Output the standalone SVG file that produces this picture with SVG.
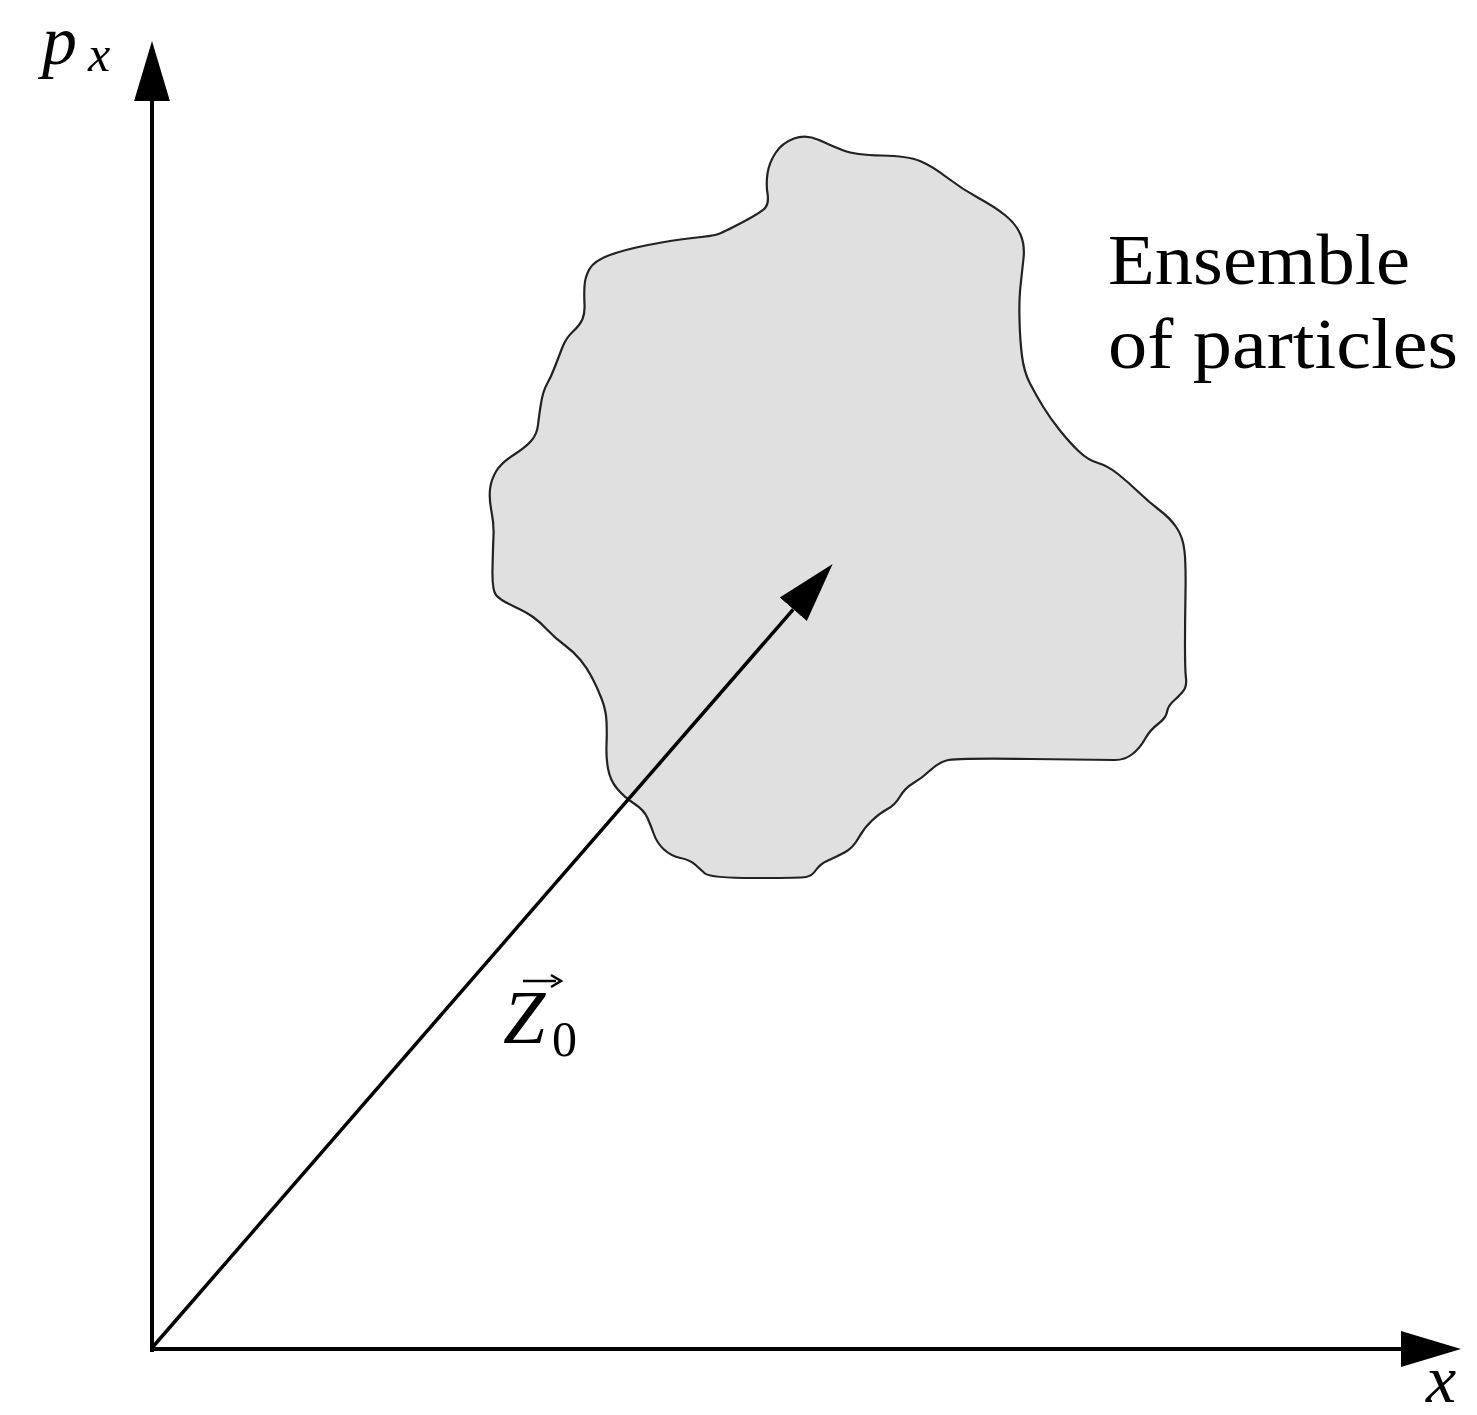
<svg xmlns="http://www.w3.org/2000/svg" width="1477" height="1415" viewBox="0 0 1477 1415">
<style>
.axis{stroke:#000;stroke-width:4;fill:none}
.vec{stroke:#000;stroke-width:3.5;fill:none}
.blob{fill:#e0e0e0;stroke:#222;stroke-width:2.2}
.math{font-family:"Liberation Serif","DejaVu Serif",serif;font-style:italic;fill:#000}
.rm{font-family:"Liberation Serif","DejaVu Serif",serif;fill:#000}
</style>
<defs>
<marker id="ah" markerUnits="userSpaceOnUse" markerWidth="60" markerHeight="40" refX="0" refY="17" orient="auto" viewBox="0 0 57 34">
<path d="M0,0 L57,17 L0,34 Z" fill="#000"/>
</marker>
</defs>
<rect width="1477" height="1415" fill="#fff"/>
<g id="ensemble">
<path class="blob" d="M794,138.5 Q806,134 819,140 Q832,146 843.5,150.5 Q855,155 881.5,155.5 Q908,156 920,161 Q932,166 947,177.5 Q962,189 978.5,198 Q995,207 1005.5,215.5 Q1016,224 1020.5,234.5 Q1025,245 1023.5,258.5 Q1022,272 1020.5,286 Q1019,300 1019.5,320 Q1020,340 1022,356 Q1024,372 1030,383.5 Q1036,395 1043,406.5 Q1050,418 1060,430.5 Q1070,443 1079,451.5 Q1088,460 1098,463 Q1108,466 1118,474 Q1128,482 1139,492.5 Q1150,503 1160,510.5 Q1170,518 1176.5,527.5 Q1183,537 1184.5,551 Q1186,565 1185.5,592.5 Q1185,620 1185,645 Q1185,670 1186,678.5 Q1187,687 1182.5,692 Q1178,697 1173,701.5 Q1168,706 1167,712 Q1166,718 1158,724 Q1150,730 1145,739 Q1140,748 1132.5,754 Q1125,760 1115,760 Q1105,760 1030,759 Q955,758 946.5,760.5 Q938,763 930,770.5 Q922,778 913.5,783 Q905,788 900,796.5 Q895,805 887.5,809 Q880,813 872,820.5 Q864,828 858.5,838 Q853,848 844.5,852.5 Q836,857 828,860.5 Q820,864 816,870 Q812,876 806,877 Q800,878 755,878 Q710,878 705,873.5 Q700,869 695,864.5 Q690,860 680.5,858 Q671,856 664,849.5 Q657,843 654,834.5 Q651,826 647.5,818 Q644,810 634,803.5 Q624,797 617,788.5 Q610,780 608,768.5 Q606,757 606.5,745 Q607,733 606.5,721.5 Q606,710 601.5,698.5 Q597,687 592,677.5 Q587,668 580.5,660 Q574,652 564.5,645 Q555,638 547.5,630 Q540,622 533,617 Q526,612 513,606 Q500,600 496,595 Q492,590 492.5,568.5 Q493,547 493.5,535.5 Q494,524 491.5,511.5 Q489,499 490,489.5 Q491,480 496,471.5 Q501,463 513.5,455 Q526,447 531.5,440.5 Q537,434 538,425 Q539,416 541,403.5 Q543,391 547,384 Q551,377 555,366.5 Q559,356 562.5,347 Q566,338 573,331.5 Q580,325 582.5,319 Q585,313 584.5,304 Q584,295 584.5,286 Q585,277 589.5,269 Q594,261 608.5,255.5 Q623,250 648,245 Q673,240 692.5,238 Q712,236 717,234.5 Q722,233 742,222.5 Q762,212 765.5,207.5 Q769,203 767.5,193.5 Q766,184 767.5,173.5 Q769,163 775.5,153 Q782,143 794,138.5 Z"/>
<text class="rm" font-size="72" x="1108" y="284" textLength="302" lengthAdjust="spacingAndGlyphs">Ensemble</text>
<text class="rm" font-size="72" x="1108" y="368" textLength="350" lengthAdjust="spacingAndGlyphs">of particles</text>
</g>
<g id="connectors">
<line id="py-axis" class="axis" x1="152" y1="1352" x2="152" y2="101" marker-end="url(#ah)"/>
<line id="x-axis" class="axis" x1="150" y1="1349" x2="1401" y2="1349" marker-end="url(#ah)"/>
<line id="z0-vector" class="vec" x1="151" y1="1349" x2="793.3" y2="609.3" marker-end="url(#ah)"/>
</g>
<g id="label-px">
<text class="math" font-size="70" x="42" y="64">p</text>
<text class="math" font-size="50" x="88" y="71">x</text>
</g>
<g id="label-x">
<text class="math" font-size="68" x="1426" y="1402">x</text>
</g>
<g id="label-z0">
<text class="math" font-size="76" x="503" y="1043">Z</text>
<text class="rm" font-size="50" x="552" y="1056">0</text>
<path d="M523,981 L556,981" stroke="#000" stroke-width="2.5" fill="none"/>
<path d="M551,975 L561,981 L551,987" stroke="#000" stroke-width="2.5" fill="none"/>
</g>
</svg>
